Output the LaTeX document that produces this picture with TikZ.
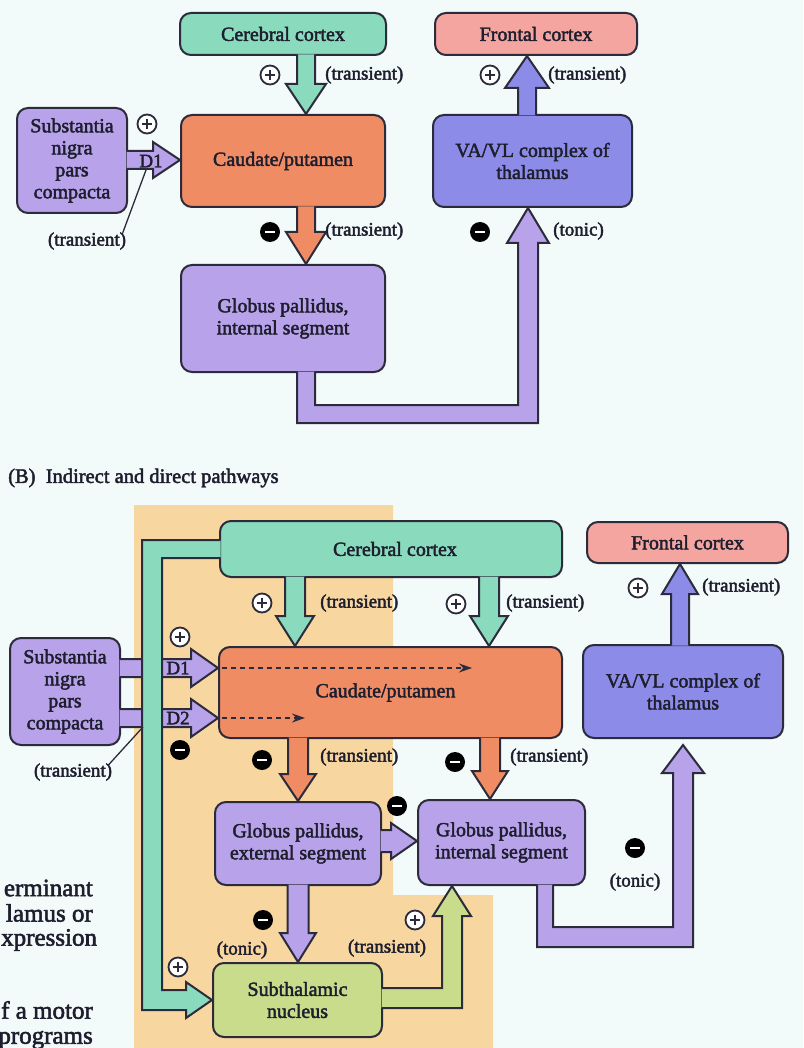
\documentclass[tikz,border=0pt]{standalone}
\usepackage{fontspec}
\setmainfont{Liberation Serif}[FakeBold=2.2]
\usetikzlibrary{calc,arrows.meta}
\definecolor{bgc}{HTML}{F3FAFA}
\definecolor{beige}{HTML}{F8D6A0}
\definecolor{tealc}{HTML}{8ADABE}
\definecolor{orng}{HTML}{F08C64}
\definecolor{purp}{HTML}{B8A2EA}
\definecolor{blu}{HTML}{8C8CE8}
\definecolor{pnk}{HTML}{F5A5A0}
\definecolor{grn}{HTML}{C8DC8C}
\definecolor{ln}{HTML}{2B2B3B}
\definecolor{txt}{HTML}{1E1E2E}
\tikzset{
 box/.style={draw=ln, line width=2pt, rounded corners=11pt, align=center, inner sep=0pt, text=txt, font=\fontsize{20}{22}\selectfont},
 blk/.style={draw=ln, line width=2pt, line join=miter},
 lbl/.style={font=\fontsize{19}{21}\selectfont, text=txt, inner sep=0pt},
 cut/.style={font=\fontsize{25}{27}\selectfont, text=txt, inner sep=0pt, anchor=east},
 pl/.style={circle, draw=ln, line width=1.8pt, fill=white, minimum size=19pt, inner sep=0pt,
   path picture={\draw[line width=2.4pt,ln] ([xshift=-5pt]path picture bounding box.center) -- ([xshift=5pt]path picture bounding box.center);
                 \draw[line width=2.4pt,ln] ([yshift=-5pt]path picture bounding box.center) -- ([yshift=5pt]path picture bounding box.center);}},
 mn/.style={circle, fill=black, minimum size=20pt, inner sep=0pt,
   path picture={\draw[line width=2.8pt,white] ([xshift=-5pt]path picture bounding box.center) -- ([xshift=5pt]path picture bounding box.center);}},
 thin/.style={draw=ln, line width=1.3pt}
}
% vertical block arrows: color, from, to, x, shaft half width, head half width, head length
\newcommand\downblk[7]{\path[blk,fill=#1] let \p1=(#2),\p2=(#3) in
 ({(#4-#5)*1pt},{\y1+1.5pt}) -- ({(#4-#5)*1pt},{\y2+#7pt}) -- ({(#4-#6)*1pt},{\y2+#7pt}) -- ({#4*1pt},\y2) -- ({(#4+#6)*1pt},{\y2+#7pt}) -- ({(#4+#5)*1pt},{\y2+#7pt}) -- ({(#4+#5)*1pt},{\y1+1.5pt});}
\newcommand\upblk[7]{\path[blk,fill=#1] let \p1=(#2),\p2=(#3) in
 ({(#4-#5)*1pt},{\y1-1.5pt}) -- ({(#4-#5)*1pt},{\y2-#7pt}) -- ({(#4-#6)*1pt},{\y2-#7pt}) -- ({#4*1pt},\y2) -- ({(#4+#6)*1pt},{\y2-#7pt}) -- ({(#4+#5)*1pt},{\y2-#7pt}) -- ({(#4+#5)*1pt},{\y1-1.5pt});}
% horizontal block arrow: color, from, to, y (downward px), shaft hw, head hw, head length
\newcommand\rightblk[7]{\path[blk,fill=#1] let \p1=(#2),\p2=(#3) in
 ({\x1-1.5pt},{-(#4-#5)*1pt}) -- ({\x2-#7pt},{-(#4-#5)*1pt}) -- ({\x2-#7pt},{-(#4-#6)*1pt}) -- (\x2,{-#4*1pt}) -- ({\x2-#7pt},{-(#4+#6)*1pt}) -- ({\x2-#7pt},{-(#4+#5)*1pt}) -- ({\x1-1.5pt},{-(#4+#5)*1pt});}
\begin{document}
\begin{tikzpicture}[x=1pt,y=-1pt]
\useasboundingbox (0,0) rectangle (803,1048);
\fill[bgc] (0,0) rectangle (803,1048);
% ---------------- Panel A ----------------
\node[box, fill=tealc, minimum width=206pt, minimum height=42pt] (ccA) at (283,34) {Cerebral cortex};
\node[box, fill=pnk, minimum width=202pt, minimum height=42pt] (frA) at (536,34) {Frontal cortex};
\node[box, fill=orng, minimum width=204pt, minimum height=92pt] (cpA) at (283,161) {Caudate/putamen};
\node[box, fill=blu, minimum width=199pt, minimum height=92pt] (vaA) at (532.5,161) {VA/VL complex of\\thalamus};
\node[box, fill=purp, minimum width=204pt, minimum height=107pt] (gpA) at (283,318.5) {Globus pallidus,\\internal segment};
\node[box, fill=purp, minimum width=110pt, minimum height=105pt] (snA) at (72,160.5) {Substantia\\nigra\\pars\\compacta};
\downblk{tealc}{ccA.south}{cpA.north}{306}{9}{20}{30}
\upblk{blu}{vaA.north}{frA.south}{527}{9}{22}{32}
\downblk{orng}{cpA.south}{gpA.north}{306}{9}{20}{32}
\rightblk{purp}{snA.east}{cpA.west}{160}{9}{18}{27}
\path[blk,fill=purp] let \p1=(gpA.south), \p2=(vaA.south) in
 (297pt,{\y1+1.5pt}) -- (297pt,-423pt) -- (538pt,-423pt) -- (538pt,{\y2-35pt}) -- (549pt,{\y2-35pt}) -- (528pt,\y2) -- (507pt,{\y2-35pt}) -- (518pt,{\y2-35pt}) -- (518pt,-405pt) -- (315pt,-405pt) -- (315pt,{\y1+1.5pt});
\node[pl] (pA1) at (270,75) {};
\node[lbl, anchor=west] (tA1) at (325,75) {(transient)};
\node[pl] (pA2) at (490,75) {};
\node[lbl, anchor=west] (tA2) at (548,75) {(transient)};
\node[mn] (mA1) at (270,232) {};
\node[lbl, anchor=west] (tA3) at (325,231) {(transient)};
\node[mn] (mA2) at (480,232) {};
\node[lbl, anchor=west] (tA4) at (553,231) {(tonic)};
\node[pl] (pA3) at (147,124) {};
\node[lbl] (dA1) at (151,161) {D1};
\node[lbl] (tA5) at (87,241) {(transient)};
\coordinate (dA1p) at (146,170);
\draw[thin] ($(tA5.north east)+(-4,2)$) -- (dA1p);
% ---------------- Panel B ----------------
\node[lbl, anchor=west, font=\fontsize{20.5}{22}\selectfont] (titleB) at (8,478) {(B)\ \ Indirect and direct pathways};
\fill[beige] (134,505) -- (393,505) -- (393,895) -- (493,895) -- (493,1048) -- (134,1048) -- cycle;
\node[box, fill=tealc, minimum width=342pt, minimum height=56pt] (ccB) at (391,549) {\hspace*{8pt}Cerebral cortex};
\node[box, fill=pnk, minimum width=201pt, minimum height=41pt] (frB) at (687.5,542.5) {Frontal cortex};
\node[box, fill=orng, minimum width=343pt, minimum height=91pt] (cpB) at (390.5,692.5) {\hspace*{-10pt}Caudate/putamen};
\node[box, fill=blu, minimum width=200pt, minimum height=93pt] (vaB) at (683,691.5) {VA/VL complex of\\thalamus};
\node[box, fill=purp, minimum width=110pt, minimum height=107pt] (snB) at (65,691.5) {Substantia\\nigra\\pars\\compacta};
\node[box, fill=purp, minimum width=166pt, minimum height=83pt] (gpeB) at (298,843.5) {Globus pallidus,\\external segment};
\node[box, fill=purp, minimum width=167pt, minimum height=85pt] (gpiB) at (501.5,842.5) {Globus pallidus,\\internal segment};
\node[box, fill=grn, minimum width=169pt, minimum height=74pt] (stnB) at (297.5,1000) {Subthalamic\\nucleus};
% arrows B
\downblk{tealc}{ccB.south}{cpB.north}{295}{10}{19}{30}
\downblk{tealc}{ccB.south}{cpB.north}{489}{10}{19}{30}
\upblk{blu}{vaB.north}{frB.south}{680}{9}{18}{30}
\rightblk{purp}{snB.east}{cpB.west}{668}{9}{19}{27}
\rightblk{purp}{snB.east}{cpB.west}{718}{9}{19}{27}
\downblk{orng}{cpB.south}{gpeB.north}{298}{10}{18}{27}
\downblk{orng}{cpB.south}{gpiB.north}{490}{10}{18}{28}
\rightblk{purp}{gpeB.east}{gpiB.west}{841}{11}{18}{26}
\downblk{purp}{gpeB.south}{stnB.north}{298}{10.5}{18}{29}
\path[blk,fill=tealc] let \p1=(ccB.west), \p2=(stnB.west) in
 ({\x1+1.5pt},-540pt) -- (142pt,-540pt) -- (142pt,-1010pt) -- ({\x2-26pt},-1010pt) -- ({\x2-26pt},-1018pt) -- (\x2,-1000pt) -- ({\x2-26pt},-982pt) -- ({\x2-26pt},-990pt) -- (162pt,-990pt) -- (162pt,-558pt) -- ({\x1+1.5pt},-558pt);
\path[blk,fill=grn] let \p1=(stnB.east), \p2=(gpiB.south) in
 ({\x1-1.5pt},-988pt) -- (442pt,-988pt) -- (442pt,{\y2-30pt}) -- (433pt,{\y2-30pt}) -- (452pt,\y2) -- (471pt,{\y2-30pt}) -- (462pt,{\y2-30pt}) -- (462pt,-1008pt) -- ({\x1-1.5pt},-1008pt);
\path[blk,fill=purp] let \p1=(gpiB.south), \p2=(vaB.south) in
 (537pt,{\y1+1.5pt}) -- (537pt,-947pt) -- (693pt,-947pt) -- (693pt,{\y2-34pt}) -- (704pt,{\y2-34pt}) -- (683pt,{\y2-6pt}) -- (662pt,{\y2-34pt}) -- (673pt,{\y2-34pt}) -- (673pt,-927pt) -- (553pt,-927pt) -- (553pt,{\y1+1.5pt});
% dashed arrows inside caudate
\draw[ln, line width=1.6pt, dash pattern=on 5pt off 4pt, -{Stealth[length=13pt,width=9pt]}] ($(cpB.west)+(4,-24.5)$) -- ($(cpB.west)+(254,-24.5)$);
\draw[ln, line width=1.6pt, dash pattern=on 5pt off 4pt, -{Stealth[length=13pt,width=9pt]}] ($(cpB.west)+(4,25.5)$) -- ($(cpB.west)+(87,25.5)$);
% labels B
\node[pl] (pB1) at (262,603) {};
\node[lbl, anchor=west] (tB1) at (320,603) {(transient)};
\node[pl] (pB2) at (456,604) {};
\node[lbl, anchor=west] (tB2) at (506,603) {(transient)};
\node[pl] (pB3) at (638,588) {};
\node[lbl, anchor=west] (tB3) at (702,587) {(transient)};
\node[pl] (pB4) at (180,637) {};
\node[mn] (mB1) at (180,750) {};
\node[lbl] (dB1) at (178,668) {D1};
\node[lbl] (dB2) at (178,718) {D2};
\node[lbl] (tB4) at (73,772) {(transient)};
\coordinate (dB2p) at (143,727);
\draw[thin] ($(tB4.north east)+(-4,2)$) -- (dB2p);
\node[mn] (mB2) at (262,760) {};
\node[lbl, anchor=west] (tB5) at (320,757) {(transient)};
\node[mn] (mB3) at (455,762) {};
\node[lbl, anchor=west] (tB6) at (510,757) {(transient)};
\node[mn] (mB4) at (397,806) {};
\node[mn] (mB5) at (263,920) {};
\node[lbl] (tB7) at (242,950) {(tonic)};
\node[pl] (pB5) at (178,967) {};
\node[pl] (pB6) at (415,920) {};
\node[lbl] (tB8) at (387,948) {(transient)};
\node[mn] (mB6) at (635,848) {};
\node[lbl] (tB9) at (635,882) {(tonic)};
% cut-off text at the left edge
\node[cut] (c1) at (93,888) {erminant};
\node[cut] (c2) at (93,913) {lamus or};
\node[cut, anchor=west] (c3) at (1,940) {xpression};
\node[cut] (c4) at (93,1010) {f a motor};
\node[cut] (c5) at (93,1040) {programs};
\end{tikzpicture}
\end{document}
